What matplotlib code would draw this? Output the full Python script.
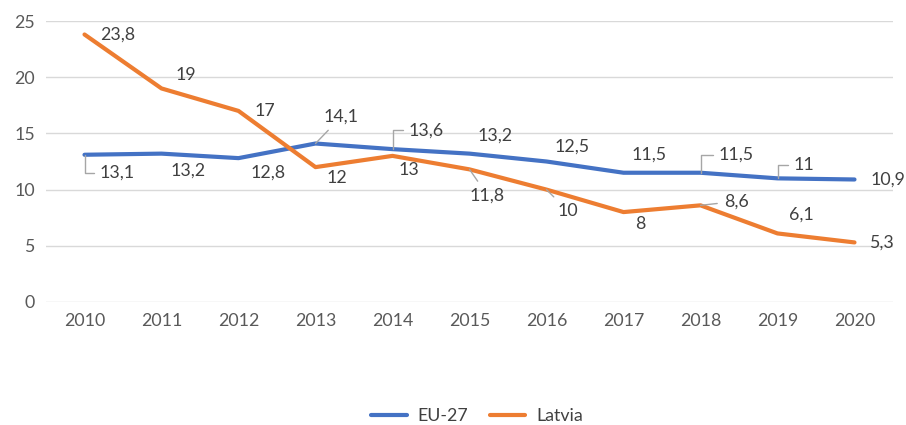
import matplotlib
matplotlib.use("Agg")
import matplotlib.pyplot as plt

years = ["2010", "2011", "2012", "2013", "2014", "2015", "2016", "2017", "2018", "2019", "2020"]
eu27 = [13.1, 13.2, 12.8, 14.1, 13.6, 13.2, 12.5, 11.5, 11.5, 11.0, 10.9]
latvia = [23.8, 19.0, 17.0, 12.0, 13.0, 11.8, 10.0, 8.0, 8.6, 6.1, 5.3]
y_ticks = [0, 5, 10, 15, 20, 25]

BLUE = "#4472C4"
ORANGE = "#ED7D31"
TXT = "#404040"
TICK = "#595959"
LEAD = "#A6A6A6"

plt.rcParams["font.family"] = ["Lato", "DejaVu Sans"]
FS = 12.8

fig = plt.figure(figsize=(9.06, 4.25), dpi=100)
ax = fig.add_axes([46 / 906, 1 - 302 / 425, (893 - 46) / 906, (302 - 21) / 425])

x = list(range(len(years)))
ax.plot(x, eu27, color=BLUE, lw=3.0, solid_capstyle="round", label="EU-27", zorder=3)
ax.plot(x, latvia, color=ORANGE, lw=3.0, solid_capstyle="round", label="Latvia", zorder=3)

ax.set_xlim(-0.5, len(years) - 0.5)
ax.set_ylim(0, 25)
ax.set_yticks(y_ticks)
ax.set_yticklabels([str(v) for v in y_ticks])
ax.set_xticks(x)
ax.set_xticklabels(years)
ax.grid(axis="y", color="#D9D9D9", lw=1.0)
ax.set_axisbelow(True)
for s in ax.spines.values():
    s.set_visible(False)
ax.tick_params(axis="both", length=0, labelsize=FS, labelcolor=TICK)
ax.tick_params(axis="y", pad=8)
ax.tick_params(axis="x", pad=8)

def fmt(v):
    s = ("%g" % v).replace(".", ",")
    return s

px = 0.72  # px -> points
# offsets in pixels (dx, dy with dy positive = down), leader style
eu_off = [(33, 18, "elbow"), (27, 17, None), (30, 14, None), (26, -27, "diag"),
          (34, -19, "elbow"), (26, -18, None), (26, -15, None), (26, -18, None),
          (36, -18, "elbow"), (26, -13, "elbow"), (33, 0, None)]
lv_off = [(33, 0, None), (24, -13, None), (26, 0, None), (21, 11, None),
          (16, 14, None), (18, 26, "diag"), (21, 21, "diag"), (17, 12, None),
          (36, -4, "flat"), (24, -19, None), (27, 0, None)]

def annotate_series(vals, offs):
    for i, (v, (dx, dy, lead)) in enumerate(zip(vals, offs)):
        kw = {}
        if lead == "elbow":
            kw["arrowprops"] = dict(arrowstyle="-", color=LEAD, lw=1.0, shrinkA=2, shrinkB=0,
                                    connectionstyle="angle,angleA=0,angleB=90,rad=0")
        elif lead in ("diag", "flat"):
            kw["arrowprops"] = dict(arrowstyle="-", color=LEAD, lw=1.0, shrinkA=3, shrinkB=0)
        ax.annotate(fmt(v), xy=(i, v), xytext=(dx * px, -dy * px), textcoords="offset points",
                    ha="center", va="center", fontsize=FS, color=TXT, zorder=4, **kw)

annotate_series(eu27, eu_off)
annotate_series(latvia, lv_off)

fig.legend(loc="center", bbox_to_anchor=(477 / 906, 1 - 416 / 425), ncol=2, frameon=False,
           fontsize=FS, handlelength=2.0, handletextpad=0.6, columnspacing=1.2,
           labelcolor=TXT)

fig.savefig("out.png", dpi=100)
